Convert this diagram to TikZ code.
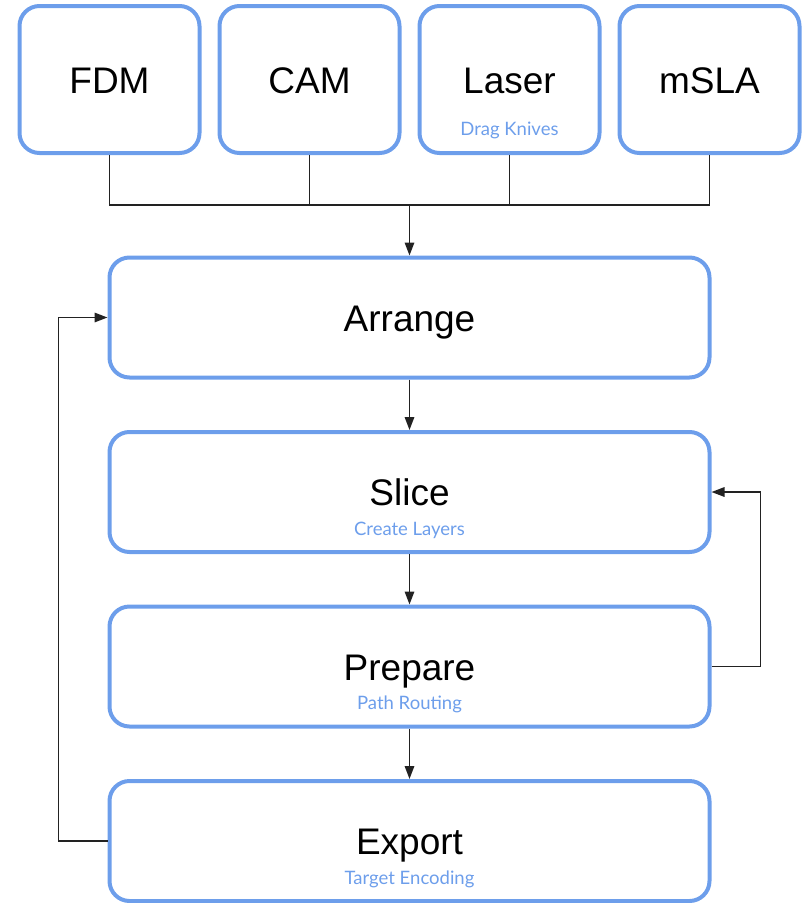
\documentclass[tikz,border=0pt]{standalone}
\usepackage{fontspec}
\setmainfont{Liberation Sans}
\newfontfamily\subfont{Lato}
\usetikzlibrary{arrows.meta,positioning}
\definecolor{boxblue}{HTML}{6D9EEB}
\definecolor{linkgray}{HTML}{222222}

\begin{document}
\begin{tikzpicture}[x=1pt,y=-1pt,
        box/.style={draw=boxblue,line width=4pt,rounded corners=20pt,minimum width=180pt,minimum height=147pt,
            inner sep=0pt,text height=27pt,text depth=0pt,font=\fontsize{37}{44}\selectfont},
        stage/.style={box,minimum width=600pt,minimum height=120pt},
        sub/.style={anchor=base,inner sep=0pt,text=boxblue,font=\subfont\fontsize{18.5}{22}\selectfont},
        link/.style={line width=1.6pt,linkgray},
        flow/.style={link,-{Triangle[length=13pt,width=9.5pt]}}]
            \useasboundingbox (0,0) rectangle (806,903);

            \node[box] (fdm) at (109.5,79.5) {FDM};
            \node[box] (cam) at (309.5,79.5) {CAM};
            \node[box] (laser) at (509.5,79.5) {Laser};
            \node[box] (msla) at (709.5,79.5) {mSLA};
            \node[sub] (lasersub) at ([yshift=-56pt]laser.center) {Drag Knives};

            \node[stage] (arrange) at (409.5,317.5) {Arrange};
            \node[stage] (slice) at (409.5,492) {Slice};
            \node[sub] (slicesub) at ([yshift=-43pt]slice.center) {Create Layers};
            \node[stage] (prepare) at (409.5,666.5) {Prepare};
            \node[sub] (preparesub) at ([yshift=-43pt]prepare.center) {Path Routing};
            \node[stage] (export) at (409.5,841) {Export};
            \node[sub] (exportsub) at ([yshift=-43pt]export.center) {Target Encoding};

            \draw[link] (fdm.south) -- ++(0,50) coordinate (bus) -- (bus -| msla.south) -- (msla.south);
            \draw[link] (cam.south) -- (cam.south |- bus);
            \draw[link] (laser.south) -- (laser.south |- bus);
            \draw[flow] (arrange.north |- bus) -- (arrange.north);

            \draw[flow] (arrange) -- (slice);
            \draw[flow] (slice) -- (prepare);
            \draw[flow] (prepare) -- (export);

            \draw[flow] (export.west) -- ++(-49,0) |- (arrange.west);
            \draw[flow] (prepare.east) -- ++(49,0) |- (slice.east);
        \end{tikzpicture}
\end{document}
